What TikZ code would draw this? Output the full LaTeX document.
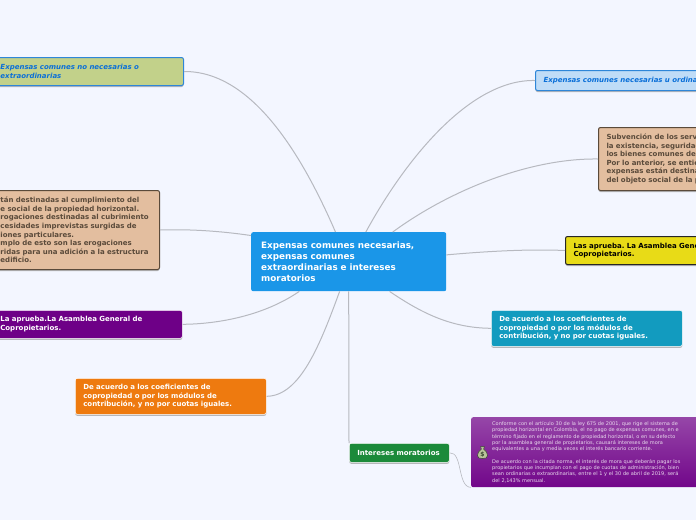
\documentclass[tikz,border=0pt]{standalone}
\usepackage{fontspec}
\setmainfont{DejaVu Sans}
\usetikzlibrary{shadows}
\definecolor{pagebg}{HTML}{F3F6FF}
\definecolor{linkgray}{HTML}{B7B9C0}
\definecolor{hubblue}{HTML}{1A96E8}
\definecolor{olivefill}{HTML}{C2D18A}
\definecolor{edgeblue}{HTML}{2E86D8}
\definecolor{textblue}{HTML}{0A6FD8}
\definecolor{skyfill}{HTML}{BFDCF7}
\definecolor{tanfill}{HTML}{E3BE9F}
\definecolor{tanedge}{HTML}{5A4A3A}
\definecolor{tantext}{HTML}{5A4A3A}
\definecolor{plum}{HTML}{6E0087}
\definecolor{orangefill}{HTML}{EE7A0F}
\definecolor{tealfill}{HTML}{129BBF}
\definecolor{yellowfill}{HTML}{E8DB17}
\definecolor{greenfill}{HTML}{1B8A3A}
\definecolor{bagfill}{HTML}{B9C39A}
\definecolor{bagedge}{HTML}{3A4A30}
\pgfdeclareverticalshading{plumfade}{100bp}{
  color(0bp)=(plum!75!white); color(12bp)=(plum); color(20bp)=(plum); color(100bp)=(plum!60!white)}
\frenchspacing
\begin{document}
\begin{tikzpicture}[x=1pt, y=-1pt]
        \tikzstyle{topic} = [rectangle, rounded corners=2pt, anchor=north west, align=left, inner ysep=0pt, inner xsep=8pt, font=\fontsize{7}{8.6}\selectfont\bfseries, drop shadow={shadow xshift=0pt, shadow yshift=-1.5pt, fill=black!45, opacity=0.6}]
        \tikzstyle{blueitalic} = [topic, draw=edgeblue, line width=1pt, text=textblue, font=\fontsize{7}{8.6}\selectfont\bfseries\itshape]
        \tikzstyle{tanbox} = [topic, draw=tanedge, line width=1pt, fill=tanfill, text=tantext]
        \tikzstyle{whitebox} = [topic, draw=white, line width=0.6pt, text=white]
        \tikzstyle{link} = [draw=linkgray, line width=1pt]

        \useasboundingbox (0,0) rectangle (696,520);
        \clip (0,0) rectangle (696,520);
        \fill [pagebg] (0,0) rectangle (696,520);

        \node (hub) [rectangle, rounded corners=2pt, fill=hubblue, text=white, anchor=north west, align=left, inner sep=0pt, text width=175pt, inner xsep=10pt, minimum height=59pt, font=\fontsize{8.8}{11}\selectfont\bfseries] at (251,232) {Expensas comunes necesarias,\\expensas comunes\\extraordinarias e intereses\\moratorios};

        \node (noneed) [blueitalic, fill=olivefill, text width=175pt, minimum height=28pt] at (-8,57) {Expensas comunes no necesarias o\\extraordinarias};
        \node (destin) [tanbox, text width=151pt, minimum height=79pt] at (-8,190) {tán destinadas al cumplimiento del\\e social de la propiedad horizontal.\\rogaciones destinadas al cubrimiento\\cesidades imprevistas surgidas de\\iones particulares.\\mplo de esto son las erogaciones\\ridas para una adición a la estructura\\edificio.};
        \node (approveb) [whitebox, fill=plum, text width=174pt, minimum height=28pt] at (-8,310) {La aprueba.La Asamblea General de\\Copropietarios.};
        \node (coefb) [whitebox, fill=orangefill, text width=175pt, minimum height=36pt] at (75,378) {De acuerdo a los coeficientes de\\copropiedad o por los módulos de\\contribución, y no por cuotas iguales.};

        \node (need) [blueitalic, fill=skyfill, text width=200pt, minimum height=20pt] at (535,70) {Expensas comunes necesarias u ordina};
        \node (subv) [tanbox, text width=200pt, minimum height=63pt] at (598,127) {Subvención de los serv\\la existencia, seguridad\\los bienes comunes del\\Por lo anterior, se entie\\expensas están destina\\del objeto social de la p};
        \node (approve) [topic, draw=black!85, line width=1pt, fill=yellowfill, text=black, text width=200pt, minimum height=28pt] at (565,236) {Las aprueba. La Asamblea Gene\\Copropietarios.};
        \node (coef) [whitebox, fill=tealfill, text width=175pt, minimum height=36pt] at (491,310) {De acuerdo a los coeficientes de\\copropiedad o por los módulos de\\contribución, y no por cuotas iguales.};

        \node (interest) [whitebox, fill=greenfill, text width=84pt, minimum height=19pt] at (349,443) {Intereses moratorios};
        \node (detail) [rectangle, rounded corners=2pt, shading=plumfade, anchor=north west, align=left, inner sep=0pt, inner xsep=21pt, text=white!85!plum, text width=220pt, minimum height=70pt, font=\fontsize{5}{6.3}\selectfont] at (471,417) {Conforme con el artículo 30 de la ley 675 de 2001, que rige el sistema de\\propiedad horizontal en Colombia, el no pago de expensas comunes, en e\\término fijado en el reglamento de propiedad horizontal, o en su defecto\\por la asamblea general de propietarios, causará intereses de mora\\equivalentes a una y media veces el interés bancario corriente.\\[6.3pt]De acuerdo con la citada norma, el interés de mora que deberán pagar los\\propietarios que incumplan con el pago de cuotas de administración, bien\\sean ordinarias o extraordinarias, entre el 1 y el 30 de abril de 2019, será\\del 2,143\% mensual.};

        % money bag icon
        \draw [fill=bagfill, draw=bagedge, line width=0.5pt] (480.5,446.5) -- (484.5,446.5) -- (483.6,449) .. controls (486,450.5) and (487.5,453) .. (487.5,455.5) .. controls (487.5,458) and (485.5,458.5) .. (482.5,458.5) .. controls (479.5,458.5) and (477.5,458) .. (477.5,455.5) .. controls (477.5,453) and (479,450.5) .. (481.4,449) -- cycle;
        \node (bag) [inner sep=0pt, text=bagedge, font=\fontsize{6}{6}\selectfont\bfseries] at (482.5,454.3) {\$};

        % branches out of the centre
        \draw [link] (hub.114.6) .. controls (300,150) and (250,71) .. (noneed.east);
        \draw [link] (hub.60.8) .. controls (405,160) and (470,79) .. (need.west);
        \draw [link] (hub.34.1) .. controls (450,190) and (530,158) .. (subv.west);
        \draw [link] (hub.4.4) .. controls (490,251) and (530,249) .. (approve.west);
        \draw [link] (hub.-36.8) .. controls (420,312) and (450,328) .. (coef.west);
        \draw [link] (hub.south) -- (interest.north west);
        \draw [link] (hub.-107.9) .. controls (320,345) and (300,396) .. (coefb.east);
        \draw [link] (hub.211.3) .. controls (265,315) and (220,324) .. (approveb.east);
        \draw [link] (hub.165.9) .. controls (220,231) and (190,229) .. (destin.east);
        \draw [link, line width=0.6pt] (interest.east) .. controls (463,452) and (457,487) .. (detail.south west);
    \end{tikzpicture}
\end{document}
